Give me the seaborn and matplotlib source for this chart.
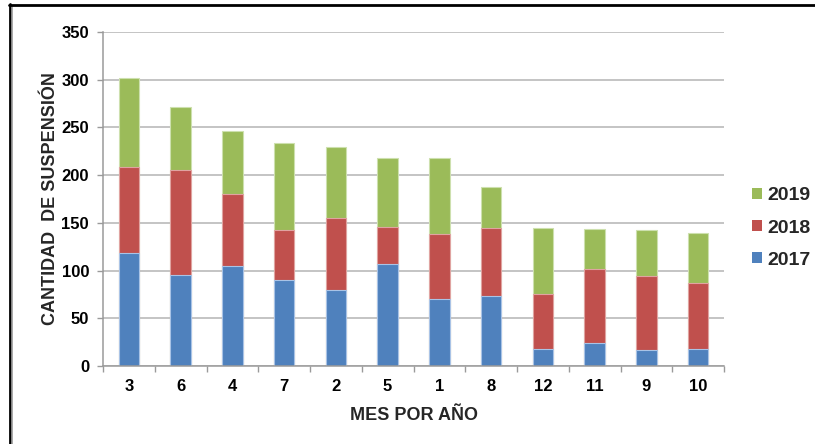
import matplotlib
matplotlib.use("Agg")
import matplotlib.pyplot as plt
from matplotlib.patches import Patch
from matplotlib.lines import Line2D
import numpy as np
import pandas as pd
import seaborn as sns

# Monthly suspension counts, ordered by total
meses = ["3", "6", "4", "7", "2", "5", "1", "8", "12", "11", "9", "10"]
s2017 = [118, 95, 105, 90, 80, 107, 70, 73, 18, 24, 17, 18]
s2018 = [91, 110, 75, 52, 75, 39, 68, 72, 57, 78, 77, 69]
s2019 = [93, 66, 66, 92, 75, 72, 80, 43, 70, 42, 48, 52]
anios = ["2017", "2018", "2019"]
colores = ["#4F81BD", "#C0504D", "#9BBB59"]
edges = ["#a9c3e6", "#e0a3a1", "#cde0ae"]

sns.set_theme(style="white")
plt.rcParams["font.family"] = ["Liberation Sans", "DejaVu Sans"]
plt.rcParams["font.weight"] = "bold"

df = pd.DataFrame({"mes": meses, "2017": s2017, "2018": s2018, "2019": s2019})
df["c2017"] = df["2017"]
df["c2018"] = df["2017"] + df["2018"]
df["c2019"] = df["c2018"] + df["2019"]

fig = plt.figure(figsize=(8.15, 4.44), dpi=100)
ax = fig.add_axes([103 / 815, 1 - 366 / 444, 621 / 815, 334 / 444])

# Stacked bars: draw cumulative totals from the top segment down
for anio, col, ec in reversed(list(zip(anios, colores, edges))):
    sns.barplot(data=df, x="mes", y="c" + anio, order=meses, color=col,
                width=0.4, saturation=1, edgecolor=ec, linewidth=0.8,
                ax=ax, zorder=3)

ax.set_xlim(-0.5, len(meses) - 0.5)
ax.set_ylim(0, 350)
ax.set_yticks(np.arange(0, 351, 50))
ax.yaxis.grid(True, color="#b4b4b4", linewidth=1.1, zorder=0)
ax.xaxis.grid(False)
ax.set_axisbelow(True)

for side in ["top", "right"]:
    ax.spines[side].set_visible(False)
for side in ["left", "bottom"]:
    ax.spines[side].set_color("#9a9a9a")
    ax.spines[side].set_linewidth(1.1)
    ax.spines[side].set_zorder(4)

ax.tick_params(axis="y", which="major", left=True, length=4, width=1,
               color="#9a9a9a", labelsize=12, labelcolor="black", pad=6)
ax.set_xticks(np.arange(-0.5, len(meses), 1), minor=True)
ax.tick_params(axis="x", which="major", length=0, labelsize=12,
               labelcolor="black", pad=9)
ax.tick_params(axis="x", which="minor", bottom=True, length=4, width=1,
               color="#9a9a9a")
for lbl in ax.get_xticklabels() + ax.get_yticklabels():
    lbl.set_fontweight("bold")

ax.set_xlabel("MES POR AÑO", fontsize=13, fontweight="bold", labelpad=10)
ax.set_ylabel("CANTIDAD  DE SUSPENSIÓN", fontsize=13, fontweight="bold",
              labelpad=2)

handles = [Patch(facecolor=c, edgecolor="none") for c in reversed(colores)]
fig.legend(handles, list(reversed(anios)), loc="center left",
           bbox_to_anchor=(752 / 815, 1 - 228 / 444), frameon=False,
           prop={"weight": "bold", "size": 14}, borderpad=0, borderaxespad=0,
           handlelength=0.5, handleheight=0.5, handletextpad=0.3,
           labelspacing=0.78)

# Outer frame edges
fig.add_artist(Line2D([10 / 815, 10 / 815], [0, 1 - 4 / 444],
                      transform=fig.transFigure, color="black", linewidth=2))
fig.add_artist(Line2D([12 / 815, 12 / 815], [0, 1 - 6 / 444],
                      transform=fig.transFigure, color="#9a9a9a", linewidth=1.2))
fig.add_artist(Line2D([9 / 815, 1], [1 - 5 / 444, 1 - 5 / 444],
                      transform=fig.transFigure, color="black", linewidth=2))

fig.savefig("out.png", dpi=100)
